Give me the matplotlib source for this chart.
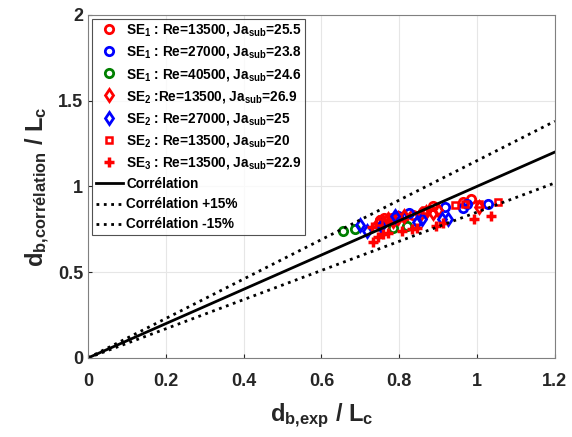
import matplotlib
matplotlib.use("Agg")
import matplotlib.pyplot as plt
import numpy as np

plt.rcParams['font.family'] = ['Liberation Sans', 'DejaVu Sans']
plt.rcParams['font.weight'] = 'bold'
plt.rcParams['axes.labelweight'] = 'bold'
plt.rcParams['mathtext.fontset'] = 'custom'
plt.rcParams['mathtext.rm'] = 'Liberation Sans:bold'
plt.rcParams['mathtext.it'] = 'Liberation Sans:bold'
plt.rcParams['mathtext.bf'] = 'Liberation Sans:bold'
plt.rcParams['mathtext.default'] = 'rm'

# SE1 Re=13500 (red circles)
se1_13500_x = [0.751, 0.762, 0.781, 0.795, 0.811, 0.836, 0.862, 0.888, 0.965, 0.985]
se1_13500_y = [0.805, 0.815, 0.815, 0.825, 0.820, 0.834, 0.853, 0.888, 0.908, 0.925]
# SE1 Re=27000 (blue circles)
se1_27000_x = [0.798, 0.826, 0.918, 0.965, 0.973, 1.027]
se1_27000_y = [0.828, 0.847, 0.882, 0.873, 0.898, 0.898]
# SE1 Re=40500 (green circles)
se1_40500_x = [0.656, 0.686, 0.785, 0.821]
se1_40500_y = [0.740, 0.750, 0.756, 0.770]
# SE2 Re=13500 Ja=26.9 (red diamonds)
se2_13500_x = [0.746, 0.759, 0.772, 0.785, 0.798, 0.812, 0.853, 0.870, 0.888, 0.900, 1.006]
se2_13500_y = [0.785, 0.795, 0.809, 0.800, 0.815, 0.825, 0.834, 0.850, 0.843, 0.860, 0.879]
# SE2 Re=27000 (blue diamonds)
se2_27000_x = [0.699, 0.716, 0.752, 0.789, 0.845, 0.858, 0.909, 0.926]
se2_27000_y = [0.776, 0.737, 0.770, 0.828, 0.795, 0.809, 0.809, 0.812]
# SE2 Re=13500 Ja=20 (red squares)
se2_ja20_x = [0.749, 0.866, 0.943, 0.969, 1.006, 1.053]
se2_ja20_y = [0.795, 0.863, 0.892, 0.898, 0.898, 0.908]
# SE3 Re=13500 (red plus)
se3_13500_x = [0.731, 0.732, 0.746, 0.759, 0.772, 0.806, 0.832, 0.845, 0.894, 0.913, 0.993, 1.035]
se3_13500_y = [0.765, 0.678, 0.702, 0.723, 0.727, 0.742, 0.750, 0.756, 0.771, 0.785, 0.810, 0.828]

line_x = [0, 1.2]
corr_y = [0, 1.2]
corr_plus_y = [0, 1.38]
corr_minus_y = [0, 1.02]

fig = plt.figure(figsize=(5.72, 4.37), dpi=100)
ax = fig.add_axes([0.154, 0.181, 0.816, 0.785])

mk = dict(linestyle='none', markerfacecolor='none', markeredgewidth=2, markersize=6)
ax.plot(se1_13500_x, se1_13500_y, 'o', color='red', label=r'SE$_1$ : Re=13500, Ja$_{sub}$=25.5', **mk)
ax.plot(se1_27000_x, se1_27000_y, 'o', color='blue', label=r'SE$_1$ : Re=27000, Ja$_{sub}$=23.8', **mk)
ax.plot(se1_40500_x, se1_40500_y, 'o', color='green', label=r'SE$_1$ : Re=40500, Ja$_{sub}$=24.6', **mk)
ax.plot(se2_13500_x, se2_13500_y, 'd', color='red', label=r'SE$_2$ :Re=13500, Ja$_{sub}$=26.9', **mk)
ax.plot(se2_27000_x, se2_27000_y, 'd', color='blue', label=r'SE$_2$ : Re=27000, Ja$_{sub}$=25', **mk)
ax.plot(se2_ja20_x, se2_ja20_y, 's', color='red', linestyle='none', markerfacecolor='none',
        markeredgewidth=1.8, markersize=5, label=r'SE$_2$ : Re=13500, Ja$_{sub}$=20')
ax.plot(se3_13500_x, se3_13500_y, '+', color='red', linestyle='none', markeredgewidth=2.5,
        markersize=7, label=r'SE$_3$ : Re=13500, Ja$_{sub}$=22.9')

ax.plot(line_x, corr_y, '-', color='black', lw=2, label='Corrélation')
ax.plot(line_x, corr_plus_y, ':', color='black', lw=2, label='Corrélation +15%')
ax.plot(line_x, corr_minus_y, ':', color='black', lw=2, label='Corrélation -15%')

ax.set_xlim(0, 1.2)
ax.set_ylim(0, 2)
ax.set_xticks([0, 0.2, 0.4, 0.6, 0.8, 1, 1.2])
ax.set_xticklabels(['0', '0.2', '0.4', '0.6', '0.8', '1', '1.2'])
ax.set_yticks([0, 0.5, 1, 1.5, 2])
ax.set_yticklabels(['0', '0.5', '1', '1.5', '2'])
ax.tick_params(labelsize=13, colors='#262626', length=3, direction='in')
ax.tick_params(axis='x', pad=11)
ax.grid(True, color='#e6e6e6', lw=0.8)
ax.set_axisbelow(True)
for s in ax.spines.values():
    s.set_color('#808080')

ax.set_xlabel(r'd$_{b{,}exp}$ / L$_c$', fontsize=17, color='#262626', labelpad=8)
ax.set_ylabel(r'd$_{b{,}corrélation}$ / L$_c$', fontsize=17, color='#262626')

leg = ax.legend(loc='upper left', fontsize=9.8, frameon=True, fancybox=False,
                edgecolor='#262626', handlelength=2.0, handletextpad=0.25,
                labelspacing=0.45, borderpad=0.25, borderaxespad=0.3)
leg.get_frame().set_linewidth(0.8)

fig.savefig('out.png', dpi=100)
